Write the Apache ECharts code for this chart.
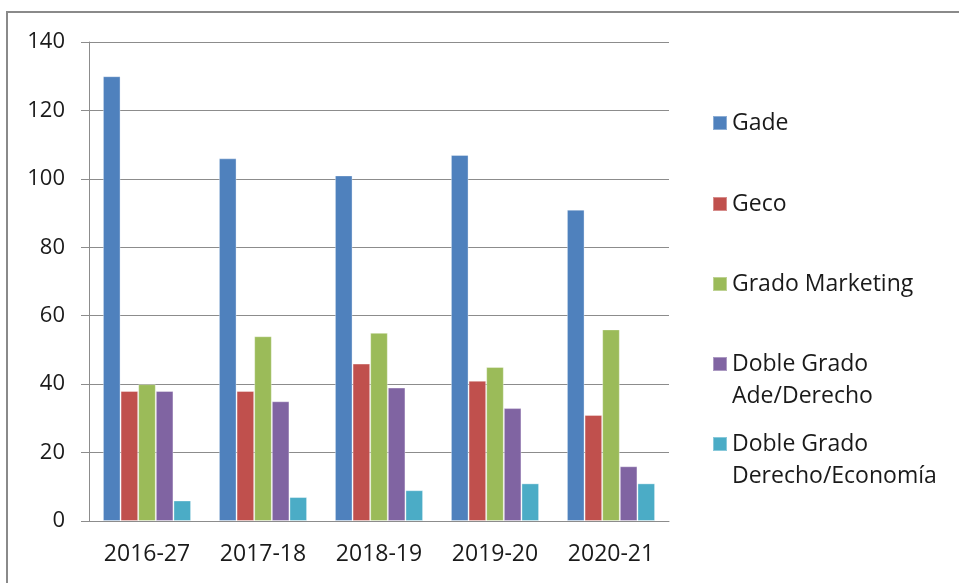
<!DOCTYPE html>
<html>
<head>
<meta charset="utf-8">
<script src="https://cdn.jsdelivr.net/npm/echarts@6/dist/echarts.min.js"></script>
<style>
  html, body { margin: 0; padding: 0; background: #fff; }
  #chart { width: 959px; height: 583px; }
</style>
</head>
<body>
<div id="chart"></div>
<script>
const categories = ['2016-27', '2017-18', '2018-19', '2019-20', '2020-21'];
const gade = [130, 106, 101, 107, 91];
const geco = [38, 38, 46, 41, 31];
const marketing = [40, 54, 55, 45, 56];
const adeDerecho = [38, 35, 39, 33, 16];
const derechoEconomia = [6, 7, 9, 11, 11];

const names = ['Gade', 'Geco', 'Grado Marketing', 'Doble Grado Ade/Derecho', 'Doble Grado Derecho/Economía'];
const labels = ['Gade', 'Geco', 'Grado Marketing', 'Doble Grado\nAde/Derecho', 'Doble Grado\nDerecho/Economía'];
const colors = ['#4F81BD', '#C0504D', '#9BBB59', '#8064A2', '#4BACC6'];
const values = [gade, geco, marketing, adeDerecho, derechoEconomia];

const font = "'Open Sans', sans-serif";
const chart = echarts.init(document.getElementById('chart'));

// square on top of a tall icon box, so the marker lines up with the first text line
const topSquare = 'path://M0,0L14,0L14,14L0,14Z M0,46L0.01,46L0,46Z';

// one legend per entry so the entries sit evenly spaced like the original
const legendTops = [107, 188, 268, 348, 428];
const legends = names.map((n, i) => {
  const twoLines = i >= 3;
  return {
    data: [n],
    orient: 'vertical',
    left: 712,
    top: legendTops[i],
    padding: 0,
    itemWidth: 14,
    itemHeight: twoLines ? 46 : 14,
    icon: twoLines ? topSquare : 'rect',
    formatter: () => labels[i],
    textStyle: {
      fontFamily: font,
      fontSize: 23,
      color: '#1a1a1a',
      lineHeight: 32
    }
  };
});

const option = {
  animation: false,
  color: colors,
  grid: { left: 89, right: 290, top: 42, bottom: 62 },
  legend: legends,
  graphic: [{
    type: 'rect',
    shape: { x: 7, y: 12, width: 1000, height: 1000 },
    style: { fill: 'none', stroke: '#8a8a8a', lineWidth: 2 },
    silent: true
  }],
  xAxis: {
    type: 'category',
    data: categories,
    axisLine: { lineStyle: { color: '#8c8c8c' } },
    axisTick: { length: 9, lineStyle: { color: '#8c8c8c' } },
    axisLabel: { fontFamily: font, fontSize: 23, color: '#1a1a1a', margin: 22 }
  },
  yAxis: {
    type: 'value',
    min: 0,
    max: 140,
    interval: 20,
    axisLine: { show: true, lineStyle: { color: '#8c8c8c' } },
    axisTick: { show: true, length: 8, lineStyle: { color: '#8c8c8c' } },
    splitLine: { lineStyle: { color: '#8c8c8c' } },
    axisLabel: { fontFamily: font, fontSize: 22, color: '#1a1a1a', margin: 24 }
  },
  series: names.map((n, i) => ({
    name: n,
    type: 'bar',
    data: values[i],
    barGap: '0%',
    barCategoryGap: '24%',
    itemStyle: { color: colors[i], borderColor: 'rgba(255,255,255,0.35)', borderWidth: 1 }
  }))
};
chart.setOption(option);
</script>
</body>
</html>
